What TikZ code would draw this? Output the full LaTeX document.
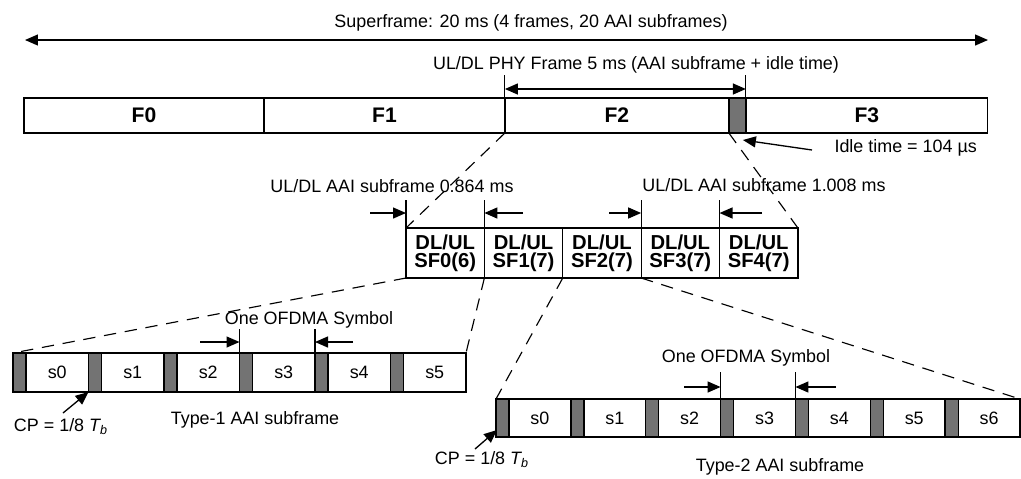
\documentclass[tikz,border=0pt]{standalone}
\usepackage{fontspec}
\setmainfont{Liberation Sans}
\usetikzlibrary{arrows.meta,positioning,calc}

\begin{document}
\begin{tikzpicture}[>={Triangle[length=2.6mm,width=2.2mm]},x=0.02cm,y=-0.02cm,
    font=\fontsize{10.2}{12}\selectfont,line width=0.75pt,
    frm/.style={draw,inner sep=0pt,outer sep=0pt,anchor=north west,minimum height=0.7cm,
        font=\fontsize{12}{14}\selectfont\bfseries},
    sfbox/.style={draw,inner sep=0pt,outer sep=0pt,anchor=north west,minimum width=1.568cm,
        minimum height=1.0cm,align=center,font=\fontsize{11.5}{10.5}\selectfont\bfseries},
    cpbox/.style={draw,fill=black!55,inner sep=0pt,outer sep=0pt,anchor=north west,minimum width=0.26cm},
    symbox/.style={draw,inner sep=0pt,outer sep=0pt,anchor=north west},
    zoomline/.style={dash pattern=on 7pt off 5pt,line width=0.65pt},
    tickln/.style={line width=0.65pt}]
    \useasboundingbox (0,0) rectangle (1021,478);

    % Superframe
    \node (superlbl) at (531,23) {Superframe: 20 ms (4 frames, 20 AAI subframes)};
    \coordinate (supl) at (25,40);
    \coordinate (supr) at (988,40);
    \draw[<->] (supl) -- (supr);

    % Four frames, idle time at the end of F2
    \node[frm,minimum width=4.8cm] (f0) at (24,98) {F0};
    \node[frm,minimum width=4.82cm] (f1) at (f0.north east) {F1};
    \node[frm,minimum width=4.48cm] (f2) at (f1.north east) {F2};
    \node[frm,fill=black!55,minimum width=0.34cm] (idle) at (f2.north east) {};
    \node[frm,minimum width=4.84cm] (f3) at (idle.north east) {F3};

    % PHY frame length
    \node (phylbl) at (636,65) {UL/DL PHY Frame 5 ms (AAI subframe + idle time)};
    \draw[tickln] (f2.north west) -- ++(0,-23);
    \draw[tickln] (idle.north east) -- ++(0,-23);
    \coordinate (phyy) at (0,89);
    \draw[<->] (f2.north west |- phyy) -- (idle.north east |- phyy);

    % Idle time
    \node[anchor=west] (idlelbl) at (828,148) {Idle time = 104 µs};
    \coordinate (idletail) at (812,150);
    \draw[->] (idletail) -- ($(idle.south east)+(-3,7)$);

    % AAI subframes of one frame
    \node[sfbox] (sf0) at (406,228) {DL/UL\\SF0(6)};
    \foreach \i [remember=\i as \j (initially 0)] in {1,...,4}
        \node[sfbox] (sf\i) at (sf\j.north east) {DL/UL\\SF\i(7)};
    \draw[zoomline] (f2.south west) -- (sf0.north west);
    \draw[zoomline] (idle.south west) -- (sf4.north east);

    % Subframe lengths
    \node (sub864lbl) at (392,186) {UL/DL AAI subframe 0.864 ms};
    \node (sub1008lbl) at (764,185) {UL/DL AAI subframe 1.008 ms};
    \foreach \s in {sf0,sf1,sf3,sf4}
        \draw[tickln] (\s.north west) -- ++(0,-28);
    \coordinate (a864l) at (370,213);
    \coordinate (a864r) at (523,213);
    \coordinate (a1008l) at (609,213);
    \coordinate (a1008r) at (762,213);
    \draw[->] (a864l) -- (a864l -| sf0.north west);
    \draw[->] (a864r) -- (a864r -| sf1.north west);
    \draw[->] (a1008l) -- (a1008l -| sf3.north west);
    \draw[->] (a1008r) -- (a1008r -| sf4.north west);

    % Type-1 AAI subframe (6 symbols)
    \foreach \i in {0,...,5} {
        \node[cpbox,minimum height=0.78cm] (t1cp\i) at ({13+75.5*\i},353) {};
        \node[symbox,minimum width=1.25cm,minimum height=0.78cm] (t1s\i) at (t1cp\i.north east) {s\i};
    }
    \draw[zoomline] (sf0.south west) -- (t1cp0.north west);
    \draw[zoomline] (sf0.south east) -- (t1s5.north east);
    \node (ofdma1lbl) at (309,320) {One OFDMA Symbol};
    \draw[tickln] (t1cp3.north west) -- ++(0,-24);
    \draw[tickln] (t1cp4.north west) -- ++(0,-24);
    \coordinate (o1l) at (200,342);
    \coordinate (o1r) at (353,342);
    \draw[->] (o1l) -- (o1l -| t1cp3.north west);
    \draw[->] (o1r) -- (o1r -| t1cp4.north west);
    \node (cp1lbl) at (61,427) {CP = 1/8 \textit{T\textsubscript{b}}};
    \coordinate (cp1tail) at (63,413);
    \draw[->] (cp1tail) -- (t1cp1.south west);
    \node (type1lbl) at (255,420) {Type-1 AAI subframe};

    % Type-2 AAI subframe (7 symbols)
    \foreach \i in {0,...,6} {
        \node[cpbox,minimum height=0.76cm] (t2cp\i) at ({496+74.86*\i},399) {};
        \node[symbox,minimum width=1.237cm,minimum height=0.76cm] (t2s\i) at (t2cp\i.north east) {s\i};
    }
    \draw[zoomline] (sf2.south west) -- (t2cp0.north west);
    \draw[zoomline] (sf2.south east) -- (t2s6.north east);
    \node (ofdma2lbl) at (746,358) {One OFDMA Symbol};
    \draw[tickln] (t2cp3.north west) -- ++(0,-27);
    \draw[tickln] (t2cp4.north west) -- ++(0,-27);
    \coordinate (o2l) at (684,387);
    \coordinate (o2r) at (836,387);
    \draw[->] (o2l) -- (o2l -| t2cp3.north west);
    \draw[->] (o2r) -- (o2r -| t2cp4.north west);
    \node (cp2lbl) at (482,460) {CP = 1/8 \textit{T\textsubscript{b}}};
    \coordinate (cp2tail) at (475,449);
    \draw[->] (cp2tail) -- ($(t2cp0.south west)+(1,-7)$);
    \node (type2lbl) at (780,467) {Type-2 AAI subframe};
\end{tikzpicture}
\end{document}
